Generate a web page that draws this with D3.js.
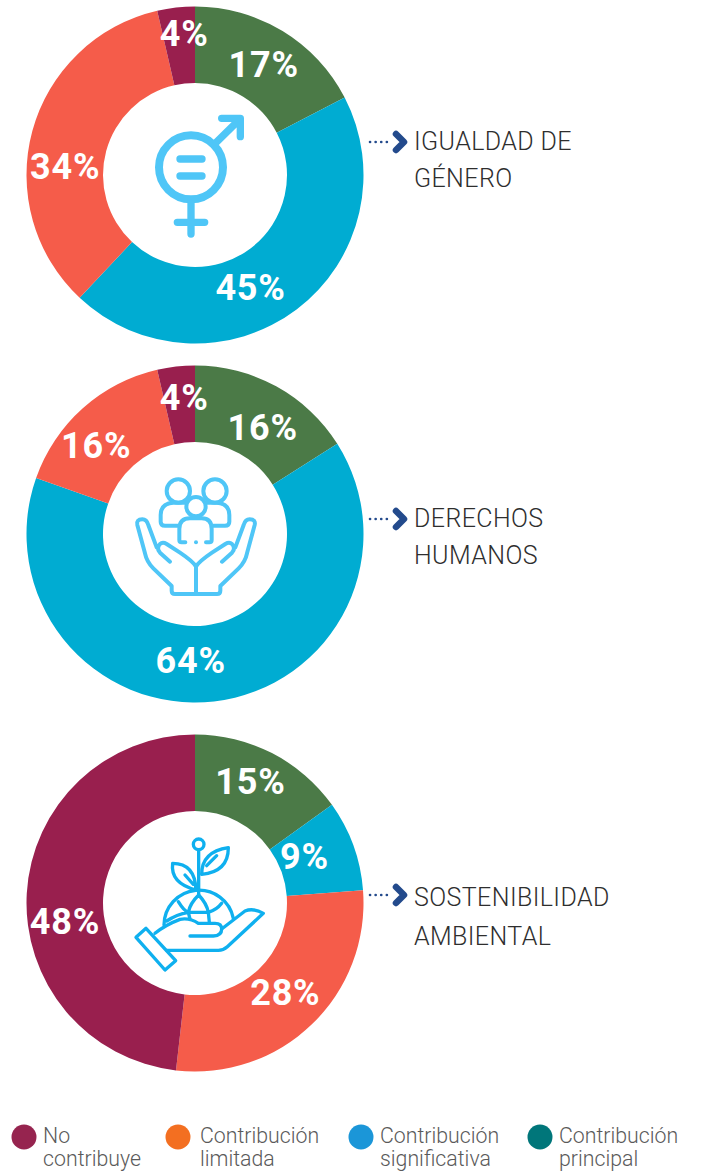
<!DOCTYPE html>
<html>
<head>
<meta charset="utf-8">
<script src="https://cdn.jsdelivr.net/npm/d3@7"></script>
<style>
html, body { margin: 0; padding: 0; background: #fff; }
svg { display: block; }
</style>
</head>
<body>
<div id="chart"></div>
<script>
// values, order = clockwise from 12 o'clock
// the printed labels are these values rounded
var segments = ["principal", "significativa", "limitada", "noContribuye"];
var generoValues = [17.4, 44.6, 34.4, 3.6];
var derechosValues = [16, 64.4, 16, 3.6];
var ambientalValues = [15.1, 8.7, 28, 48.2];

var titles = [["IGUALDAD DE", "GÉNERO"], ["DERECHOS", "HUMANOS"], ["SOSTENIBILIDAD", "AMBIENTAL"]];
var legendLabels = [["No", "contribuye"], ["Contribución", "limitada"], ["Contribución", "significativa"], ["Contribución", "principal"]];
var legendColors = ["#96244f", "#f36f21", "#1b96d8", "#00767a"];
var sliceColors = ["#4b7a47", "#00acd2", "#f55c4a", "#991f4e"];

var width = 710, height = 1172;
var outer = 168.5, inner = 92;
var fontName = "Roboto, 'Noto Sans', sans-serif";

var svg = d3.select("#chart").append("svg")
	.attr("width", width)
	.attr("height", height);

var color = d3.scaleOrdinal().domain(segments).range(sliceColors);
var pie = d3.pie().sort(null).value(d => d.value);
var arc = d3.arc().innerRadius(inner).outerRadius(outer);

// labels do not sit on the centroid in the original, so nudge them
var donuts = [
	{ values: generoValues, cy: 175, title: titles[0], titleY: [150, 187], arrowY: 142, icon: iconGenero, iconY: 85,
		nudge: [[1, 0], [-23, 8], [-4, 25], [4, -13]] },
	{ values: derechosValues, cy: 534, title: titles[1], titleY: [527, 564], arrowY: 519, icon: iconDerechos, iconY: 74,
		nudge: [[5, 7], [-19, -3], [-12, 8], [4, -8]] },
	{ values: ambientalValues, cy: 903, title: titles[2], titleY: [906, 945], arrowY: 895, icon: iconAmbiente, iconY: 78,
		nudge: [[-4, -6], [-13, -2], [0, -5], [0, 25]] }
];
var cx = 195;

donuts.forEach(function(don) {
	var g = svg.append("g").attr("transform", `translate(${cx},${don.cy})`);
	var slices = pie(don.values.map((v, i) => ({ key: segments[i], value: v })));

	g.selectAll("path.slice")
		.data(slices)
		.join("path")
		.attr("class", "slice")
		.attr("fill", d => color(d.data.key))
		.attr("d", arc);

	g.selectAll("text.pct")
		.data(slices)
		.join("text")
		.attr("class", "pct")
		.attr("text-anchor", "middle")
		.attr("dy", "0.36em")
		.attr("transform", (d, i) => {
			var c = arc.centroid(d);
			return `translate(${c[0] + don.nudge[i][0]},${c[1] + don.nudge[i][1]})`;
		})
		.attr("fill", "#fff")
		.style("font", `700 36px ${fontName}`)
		.style("letter-spacing", "0.8px")
		.text(d => Math.round(d.data.value) + "%");

	// icon paths are in the coordinates of a 3x crop
	var ic = svg.append("g")
		.attr("transform", `translate(${cx - 85},${don.cy - don.iconY}) scale(${1 / 3})`)
		.attr("fill", "none")
		.attr("stroke-linecap", "round")
		.attr("stroke-linejoin", "round");
	don.icon(ic);

	// connector and chevron
	svg.append("line")
		.attr("x1", 370).attr("x2", 390)
		.attr("y1", don.arrowY).attr("y2", don.arrowY)
		.attr("stroke", "#234a8c")
		.attr("stroke-width", 2.6)
		.attr("stroke-linecap", "round")
		.attr("stroke-dasharray", "0.1 5.5");
	svg.append("path")
		.attr("d", `M396,${don.arrowY - 8} L404,${don.arrowY} L396,${don.arrowY + 8}`)
		.attr("fill", "none")
		.attr("stroke", "#234a8c")
		.attr("stroke-width", 6.5)
		.attr("stroke-linecap", "round")
		.attr("stroke-linejoin", "round");

	don.title.forEach(function(line, i) {
		svg.append("text")
			.attr("x", 414)
			.attr("y", don.titleY[i])
			.attr("fill", "#2e2e2e")
			.style("font", `300 25px ${fontName}`)
			.style("letter-spacing", "0.4px")
			.text(line);
	});
});

function iconGenero(ic) {
	ic.attr("stroke", "#4fc6f7").attr("stroke-width", 24);
	ic.append("circle").attr("cx", 243).attr("cy", 232).attr("r", 96);
	ic.append("path").attr("stroke-width", 22).attr("d", "M210,207 H276 M210,258 H276");
	ic.append("path").attr("stroke-width", 22).attr("d", "M243,340 V432 M202,397 H284");
	ic.append("path").attr("stroke-width", 22).attr("d", "M318,158 L385,92 M335,85 H391 V140");
}

function iconDerechos(ic) {
	ic.attr("stroke", "#4fc6f7").attr("stroke-width", 12);
	ic.append("circle").attr("cx", 205).attr("cy", 93).attr("r", 35);
	ic.append("circle").attr("cx", 315).attr("cy", 93).attr("r", 35);
	ic.append("circle").attr("cx", 258).attr("cy", 140).attr("r", 29);
	ic.append("path").attr("d", "M205,197 H165 Q152,197 152,185 V165 Q152,130 190,128 H225");
	ic.append("path").attr("d", "M290,128 H320 Q358,130 358,165 V185 Q358,197 345,197 H310");
	ic.append("path").attr("d", "M226,247 H215 Q208,247 208,240 V207 Q208,175 240,175 H275 Q305,175 305,207 V240 Q305,247 298,247 H288");
	ic.append("circle").attr("cx", 258).attr("cy", 247).attr("r", 6).attr("fill", "#4fc6f7").attr("stroke", "none");
	var hand = "M258,402 H195 Q185,402 185,392 V378 L130,325 Q110,305 105,280 L82,195 Q78,178 97,178 Q110,178 115,195 L140,262 M180,305 L150,278 Q138,265 150,252 Q158,245 170,252 L210,278 Q250,305 258,320 V402";
	ic.append("path").attr("d", hand);
	ic.append("path").attr("transform", "translate(516,0) scale(-1,1)").attr("d", hand);
}

function iconAmbiente(ic) {
	ic.attr("stroke", "#0fb0ef").attr("stroke-width", 10);
	ic.append("circle").attr("cx", 266).attr("cy", 58).attr("r", 16);
	ic.append("path").attr("d", "M266,75 V210");
	ic.append("path").attr("d", "M275,148 Q275,80 355,68 Q355,140 275,148 M290,122 L320,92");
	ic.append("path").attr("d", "M258,195 Q180,175 188,115 Q255,115 258,195 M225,150 L250,178");
	ic.append("path").attr("d", "M162,300 A105,105 0 0 1 370,280");
	ic.append("path").attr("d", "M266,210 Q240,235 235,262 L240,282 M266,210 Q290,235 295,262 L298,292 M205,230 Q222,258 235,262 H295 Q320,255 335,235 M170,288 Q200,268 235,262");
	ic.append("path").attr("d", "M108,310 L78,337 L165,435 L197,407 Z");
	ic.append("path").attr("d", "M135,325 Q165,300 210,283 Q240,278 265,295 H315 Q335,295 335,312 Q335,332 310,333 H240");
	ic.append("path").attr("d", "M170,376 H325 Q340,376 352,365 L460,265 Q430,248 405,258 L335,312");
}

// legend
var legendX = [24, 178, 361, 540];
var legendTextX = [43, 200, 380, 559];
var legend = svg.append("g").selectAll("g")
	.data(legendLabels)
	.join("g");

legend.append("circle")
	.attr("cx", (d, i) => legendX[i])
	.attr("cy", 1137)
	.attr("r", 12.5)
	.attr("fill", (d, i) => legendColors[i]);

legend.each(function(d, i) {
	d.forEach(function(line, j) {
		d3.select(this).append("text")
			.attr("x", legendTextX[i])
			.attr("y", 1143 + j * 23)
			.attr("fill", "#5a5a5a")
			.style("font", `300 21.3px ${fontName}`)
			.text(line);
	}, this);
});
</script>
</body>
</html>
